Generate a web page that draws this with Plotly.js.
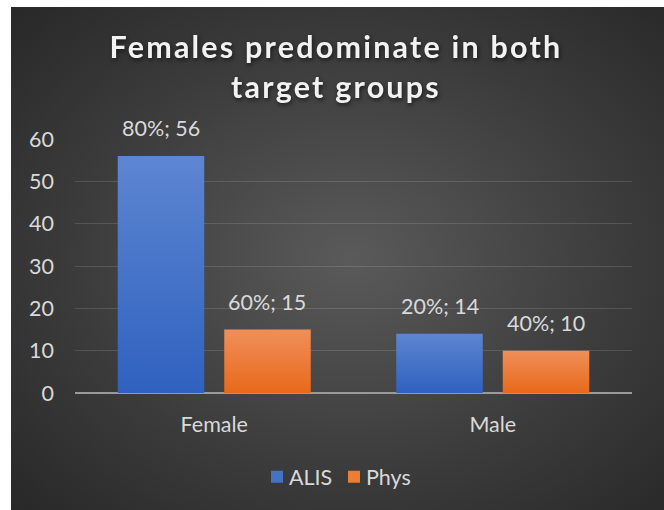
<!DOCTYPE html>
<html>
<head>
<meta charset="utf-8">
<script src="https://cdn.plot.ly/plotly-3.0.1.min.js"></script>
<style>
  html, body { margin: 0; padding: 0; background: #ffffff; }
  #wrap { position: relative; width: 664px; height: 510px; background: #ffffff; overflow: hidden; }
  #bg { position: absolute; left: 11px; top: 7px; width: 653px; height: 503px;
        background: radial-gradient(ellipse 75% 75% at 52% 50%, #5a5a5a 0%, #3c3c3c 55%, #262626 100%); }
  #chart { position: absolute; left: 0; top: 0; width: 664px; height: 510px; }
  #chart .gtitle { letter-spacing: 2.2px; filter: drop-shadow(1px 2px 2px rgba(0,0,0,0.6)); }
</style>
</head>
<body>
<div id="wrap">
  <div id="bg"></div>
  <div id="chart"></div>
</div>
<script>
// ---- data ----
const categories = ["Female", "Male"];
const seriesNames = ["ALIS", "Phys"];
const alisValues = [56, 14];
const physValues = [15, 10];
const alisPercent = ["80%", "20%"];
const physPercent = ["60%", "40%"];
const yTicks = [0, 10, 20, 30, 40, 50, 60];

const labelFont = { family: "Lato, 'Open Sans', sans-serif", size: 21.5, color: "#d9d9d9" };

const traces = [
  { type: "bar", name: seriesNames[0], x: categories, y: alisValues,
    marker: { color: "#4472c4", line: { width: 0 } }, hoverinfo: "none" },
  { type: "bar", name: seriesNames[1], x: categories, y: physValues,
    marker: { color: "#ed7d31", line: { width: 0 } }, hoverinfo: "none" }
];

// data labels as annotations above each bar
const annotations = [];
const offsetPx = 53;
categories.forEach((c, i) => {
  annotations.push({ xref: "x", yref: "y", x: c, y: alisValues[i], xshift: -offsetPx, yshift: 28,
    text: alisPercent[i] + "; " + alisValues[i], showarrow: false, yanchor: "middle", font: labelFont });
  annotations.push({ xref: "x", yref: "y", x: c, y: physValues[i], xshift: offsetPx, yshift: 28,
    text: physPercent[i] + "; " + physValues[i], showarrow: false, yanchor: "middle", font: labelFont });
});

const layout = {
  width: 664, height: 510,
  paper_bgcolor: "rgba(0,0,0,0)",
  plot_bgcolor: "rgba(0,0,0,0)",
  margin: { l: 75, r: 32, t: 139, b: 117 },
  barmode: "group",
  bargap: 0.235,
  bargroupgap: 0.188,
  title: {
    text: "Females predominate in both<br>target groups",
    font: { family: "Lato, 'Open Sans', sans-serif", size: 30.5, color: "#f2f2f2", weight: "bold" },
    x: 0.506, xanchor: "center",
    y: 0.886, yanchor: "middle", yref: "container"
  },
  xaxis: {
    type: "category",
    tickfont: labelFont,
    showgrid: false, showline: false, zeroline: false,
    ticks: "", ticklabelstandoff: 16
  },
  yaxis: {
    range: [0, 60],
    tickvals: yTicks,
    ticktext: yTicks.map(String),
    tickfont: labelFont,
    showgrid: true, gridcolor: "rgba(255,255,255,0.13)", gridwidth: 1,
    zeroline: true, zerolinecolor: "#9a9a9a", zerolinewidth: 2,
    showline: false, ticks: "", ticklabelstandoff: 20
  },
  showlegend: true,
  legend: {
    orientation: "h", x: 0.5, xanchor: "center", y: -0.33, yanchor: "middle",
    font: labelFont, bgcolor: "rgba(0,0,0,0)", itemwidth: 30, tracegroupgap: 0
  },
  annotations: annotations,
  font: { family: "Lato, 'Open Sans', sans-serif", color: "#d9d9d9" }
};

Plotly.newPlot("chart", traces, layout, { staticPlot: true, displayModeBar: false }).then(gd => {
  // apply vertical gradients to bar fills (style only)
  const svg = gd.querySelector(".main-svg");
  const ns = "http://www.w3.org/2000/svg";
  let defs = svg.querySelector("defs");
  if (!defs) { defs = document.createElementNS(ns, "defs"); svg.insertBefore(defs, svg.firstChild); }
  const grads = [
    { id: "gradAlis", top: "#5d86d2", bottom: "#2f61bf" },
    { id: "gradPhys", top: "#f08f5a", bottom: "#e8691a" }
  ];
  grads.forEach(g => {
    const lg = document.createElementNS(ns, "linearGradient");
    lg.setAttribute("id", g.id);
    lg.setAttribute("x1", "0"); lg.setAttribute("y1", "0");
    lg.setAttribute("x2", "0"); lg.setAttribute("y2", "1");
    const s1 = document.createElementNS(ns, "stop");
    s1.setAttribute("offset", "0"); s1.setAttribute("stop-color", g.top);
    const s2 = document.createElementNS(ns, "stop");
    s2.setAttribute("offset", "1"); s2.setAttribute("stop-color", g.bottom);
    lg.appendChild(s1); lg.appendChild(s2); defs.appendChild(lg);
  });
  const traceGroups = gd.querySelectorAll(".barlayer .trace");
  traceGroups.forEach((tg, i) => {
    tg.querySelectorAll("path").forEach(p => { p.style.fill = "url(#" + grads[i].id + ")"; });
  });

  // tighten legend: text closer to swatch, items placed like the reference
  try {
    const targets = [277, 354];
    const items = gd.querySelectorAll(".legend .traces");
    const chartRect = gd.getBoundingClientRect();
    items.forEach((it, i) => {
      const txt = it.querySelector("text.legendtext");
      if (txt) {
        txt.setAttribute("x", "32");
        txt.querySelectorAll("tspan").forEach(ts => { if (ts.hasAttribute("x")) ts.setAttribute("x", "32"); });
      }
      const sym = it.querySelector(".legendpoints path");
      if (!sym || targets[i] === undefined) return;
      const r = sym.getBoundingClientRect();
      const cx = r.left + r.width / 2 - chartRect.left;
      const delta = targets[i] - cx;
      const tr = it.getAttribute("transform") || "translate(0,0)";
      const m = tr.match(/translate\(\s*([-\d.]+)[ ,]*([-\d.]*)\s*\)/);
      const tx = m ? parseFloat(m[1]) : 0;
      const ty = m && m[2] !== "" ? parseFloat(m[2]) : 0;
      it.setAttribute("transform", "translate(" + (tx + delta) + "," + ty + ")");
    });
  } catch (e) { /* keep default legend */ }
});
</script>
</body>
</html>
